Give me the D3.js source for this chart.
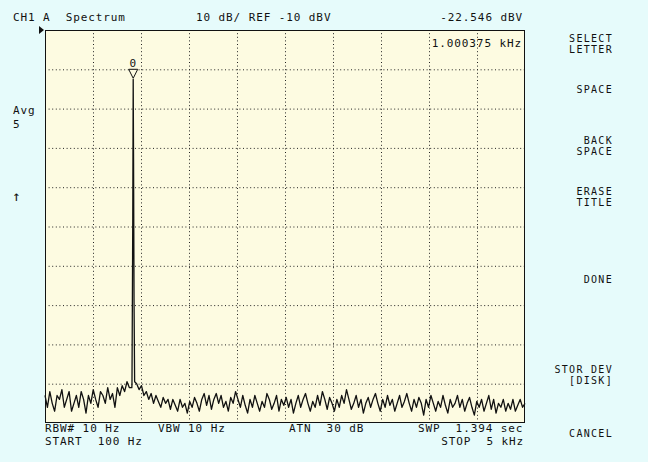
<!DOCTYPE html>
<html>
<head>
<meta charset="utf-8">
<script src="https://cdn.jsdelivr.net/npm/d3@7"></script>
<style>
  html, body { margin: 0; padding: 0; background: #e6fbfb; }
  svg { display: block; }
  text { font-family: "DejaVu Sans Mono", monospace; font-size: 11px; fill: #111; letter-spacing: 0.9px; white-space: pre; }
  text.key { font-size: 10px; letter-spacing: 1.3px; }
</style>
</head>
<body>
<svg width="648" height="462"></svg>
<script>
const width = 648, height = 462;
const startHz = 100, stopHz = 5000;
const refDb = -10, dbPerDiv = 10, divs = 10;

// averaged noise floor, dBV, evenly spaced 100 Hz .. 5 kHz
const noiseDb = [
  -103,-106,-102,-105,-107,-103,-104,-101.5,-106,-104,
  -102,-107,-105,-103,-106,-102,-104,-107.5,-103,-105,
  -101.5,-104,-106,-102,-103,-105,-101,-104,-102.5,-106,
  -101,-103,-100.5,-102,-99.5,-101,-101,-100,
  -100,-101.5,-100.5,-103,-102,-104,-102.5,-105,-103,-104.5,
  -106,-103.5,-105,-104,-106.5,-104,-105.5,-107,-104,-106,
  -105,-107.5,-104.5,
  -106,-103.5,-105,-107,-104,-102.5,-105.5,-103,-106.5,-104,
  -102.5,-105,-103,-106,-104.5,-107,-103.5,-105,-102,-104,
  -106,-103,-105.5,-107.5,-104,-106,-103,-105,-107,-104.5,
  -106,-102.5,-104,-106.5,-105,-103,-107,-104,-105.5,-103.5,
  -106,-104,-107.5,-105,-103,-106,-104,-102.5,-105,-107,
  -104.5,-106,-103,-105.5,-102,-104,-106.5,-103.5,-105,-107,
  -104,-106,-103,-105,-101.5,-104,-106.5,-105,-103,-106,
  -104,-107.5,-105,-103.5,-106,-104,-102.5,-105,-107,-104,
  -106,-103,-105.5,-104,-107,-105,-103,-106,-104.5,-102.5,
  -105,-107,-104,-106,-103.5,-105,-108,-104,-106,-103,
  -105,-107,-104.5,-106,-103,-105.5,-107.5,-104,-106,-105,
  -103,-106,-104,-107,-105,-103.5,-106,-108,-104.5,-106,
  -104,-107,-105,-103,-106.5,-104,-107.5,-105,-106,-104,
  -107,-105,-106.5,-104,-107,-105.5,-104,-106,-105
];

// the 1 kHz tone: [Hz, dBV]
const peakTrace = [
  [988, -100], [996, -58], [1000.375, -22.546], [1004, -43], [1009, -79], [1015, -99.5]
];

const markerHz = 1000.375, markerDb = -22.546;

const headerTexts = ["CH1 A  Spectrum", "10 dB/ REF -10 dBV", "-22.546 dBV"];
const softKeys = [
  ["SELECT", "LETTER"], ["SPACE"], ["BACK", "SPACE"], ["ERASE", "TITLE"],
  ["DONE"], ["STOR DEV", "[DISK]"], ["CANCEL"]
];
const softKeyY = [42, 93, 144, 195, 283, 373, 437];
const footerRow1 = [["RBW# 10 Hz", 45], ["VBW 10 Hz", 158], ["ATN  30 dB", 289], ["SWP  1.394 sec", 418]];
const footerRow2 = [["START  100 Hz", 45]];
const stopText = "STOP  5 kHz";

const plot = {left: 45, right: 525, top: 30, bottom: 423};

const x = d3.scaleLinear().domain([startHz, stopHz]).range([plot.left, plot.right]);
const y = d3.scaleLinear().domain([refDb - dbPerDiv * divs, refDb]).range([plot.bottom, plot.top]);

const svg = d3.select("svg");

// plot area
svg.append("rect")
    .attr("x", plot.left).attr("y", plot.top)
    .attr("width", plot.right - plot.left).attr("height", plot.bottom - plot.top)
    .attr("fill", "#fdfbe1");

// dotted graticule
const xDivs = d3.range(1, divs).map(i => startHz + i * (stopHz - startHz) / divs);
const yDivs = d3.range(1, divs).map(i => refDb - i * dbPerDiv);

svg.append("g")
    .attr("transform", `translate(0,${plot.bottom})`)
    .call(d3.axisBottom(x).tickValues(xDivs).tickSize(-(plot.bottom - plot.top)).tickFormat(""))
    .call(g => g.select(".domain").remove())
    .call(g => g.selectAll("line").attr("stroke", "#222").attr("stroke-dasharray", "1,2.6"));

svg.append("g")
    .attr("transform", `translate(${plot.left},0)`)
    .call(d3.axisLeft(y).tickValues(yDivs).tickSize(-(plot.right - plot.left)).tickFormat(""))
    .call(g => g.select(".domain").remove())
    .call(g => g.selectAll("line").attr("stroke", "#222").attr("stroke-dasharray", "1,2.6"));

// trace
const noisePts = noiseDb
    .map((v, i) => [startHz + i * (stopHz - startHz) / (noiseDb.length - 1), v])
    .filter(d => d[0] < peakTrace[0][0] || d[0] > peakTrace[peakTrace.length - 1][0]);
const trace = noisePts.concat(peakTrace).sort((a, b) => a[0] - b[0]);

svg.append("path")
    .datum(trace)
    .attr("fill", "none")
    .attr("stroke", "#111")
    .attr("stroke-width", 1.3)
    .attr("stroke-linejoin", "round")
    .attr("d", d3.line().x(d => x(d[0])).y(d => y(d[1])));

// frame
svg.append("rect")
    .attr("x", plot.left + 0.5).attr("y", plot.top + 0.5)
    .attr("width", plot.right - plot.left - 1).attr("height", plot.bottom - plot.top - 1)
    .attr("fill", "none").attr("stroke", "#111").attr("stroke-width", 1);

// reference level pointer
svg.append("path")
    .attr("d", `M${plot.left - 6},${plot.top - 4}L${plot.left - 1},${plot.top}L${plot.left - 6},${plot.top + 4}Z`)
    .attr("fill", "#111");

// marker
const mx = x(markerHz), my = y(markerDb);
svg.append("path")
    .attr("d", `M${mx - 4.5},${my - 10}L${mx + 4.5},${my - 10}L${mx},${my - 1}Z`)
    .attr("fill", "#fdfbe1").attr("stroke", "#111").attr("stroke-width", 1);
svg.append("text").attr("x", mx).attr("y", my - 12).attr("text-anchor", "middle").text("0");

svg.append("text").attr("x", 522).attr("y", 47).attr("text-anchor", "end").text("1.000375 kHz");

// header
svg.append("text").attr("x", 13).attr("y", 21).text(headerTexts[0]);
svg.append("text").attr("x", 196).attr("y", 21).text(headerTexts[1]);
svg.append("text").attr("x", 523).attr("y", 21).attr("text-anchor", "end").text(headerTexts[2]);

// left annotations
svg.append("text").attr("x", 13).attr("y", 114).text("Avg");
svg.append("text").attr("x", 13).attr("y", 128).text("5");
svg.append("text").attr("x", 12).attr("y", 201).style("font-size", "14px").text("↑");

// soft keys
softKeys.forEach((lines, k) => {
  lines.forEach((s, j) => svg.append("text")
      .attr("class", "key")
      .attr("x", 613).attr("y", softKeyY[k] + j * 11)
      .attr("text-anchor", "end")
      .text(s));
});

// footer
footerRow1.forEach(([s, px]) => svg.append("text").attr("x", px).attr("y", 432).text(s));
footerRow2.forEach(([s, px]) => svg.append("text").attr("x", px).attr("y", 445).text(s));
svg.append("text").attr("x", 524).attr("y", 445).attr("text-anchor", "end").text(stopText);
</script>
</body>
</html>
